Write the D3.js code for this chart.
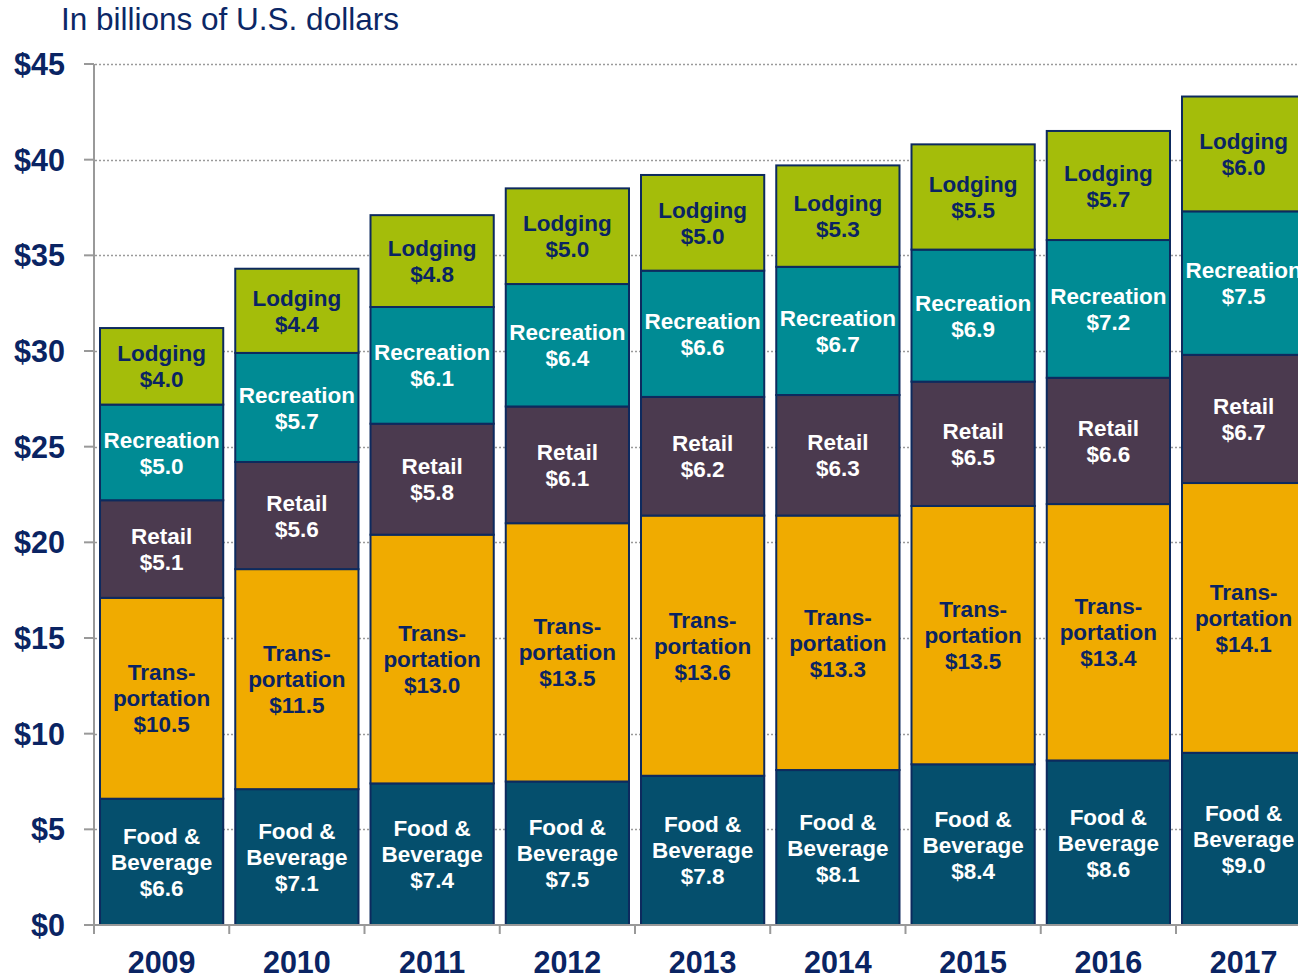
<!DOCTYPE html>
<html>
<head>
<meta charset="utf-8">
<script src="https://cdn.jsdelivr.net/npm/d3@7"></script>
<style>
  body { margin: 0; background: #fff; }
  svg { display: block; font-family: "Liberation Sans", Arial, sans-serif; }
</style>
</head>
<body>
<div id="chart"></div>
<script>
// data
var years = ["2009", "2010", "2011", "2012", "2013", "2014", "2015", "2016", "2017"];
var categories = ["Food & Beverage", "Transportation", "Retail", "Recreation", "Lodging"];
var foodBeverage   = [6.6, 7.1, 7.4, 7.5, 7.8, 8.1, 8.4, 8.6, 9.0];
var transportation = [10.5, 11.5, 13.0, 13.5, 13.6, 13.3, 13.5, 13.4, 14.1];
var retail         = [5.1, 5.6, 5.8, 6.1, 6.2, 6.3, 6.5, 6.6, 6.7];
var recreation     = [5.0, 5.7, 6.1, 6.4, 6.6, 6.7, 6.9, 7.2, 7.5];
var lodging        = [4.0, 4.4, 4.8, 5.0, 5.0, 5.3, 5.5, 5.7, 6.0];
var yTicks = [0, 5, 10, 15, 20, 25, 30, 35, 40, 45];

var series = [foodBeverage, transportation, retail, recreation, lodging];
// label lines shown inside each segment
var labelLines = [["Food &", "Beverage"], ["Trans-", "portation"], ["Retail"], ["Recreation"], ["Lodging"]];
var fills = ["#054f6d", "#f0ab00", "#4b3a4f", "#008b94", "#a4bd0a"];
var textColors = ["#fff", "#0a2463", "#fff", "#fff", "#0a2463"];

var W = 1298, H = 980;
var svg = d3.select("#chart").append("svg")
    .attr("width", W)
    .attr("height", H);

var x = d3.scaleBand()
    .domain(years)
    .range([94, 94 + 135.25 * years.length])
    .paddingInner(0.0888)
    .paddingOuter(0.0444);

var y = d3.scaleLinear()
    .domain([0, 45])
    .range([925, 64]);

// title
svg.append("text")
    .attr("x", 61)
    .attr("y", 30)
    .attr("fill", "#0b2766")
    .style("font-size", "31.5px")
    .text("In billions of U.S. dollars");

// dotted gridlines
svg.append("g")
  .selectAll("line")
  .data(yTicks.filter(function(d) { return d > 0; }))
  .join("line")
    .attr("x1", 95)
    .attr("x2", W)
    .attr("y1", function(d) { return Math.round(y(d)) + 0.5; })
    .attr("y2", function(d) { return Math.round(y(d)) + 0.5; })
    .attr("stroke", "#9a9a9a")
    .attr("stroke-width", 1.3)
    .attr("stroke-dasharray", "2,2");

// stack data
var stacked = years.map(function(yr, i) {
    var base = 0;
    return series.map(function(s, k) {
        var seg = { year: yr, k: k, v: s[i], y0: base, y1: base + s[i] };
        base += s[i];
        return seg;
    });
});
var segs = [].concat.apply([], stacked);

svg.append("g")
  .selectAll("rect")
  .data(segs)
  .join("rect")
    .attr("x", function(d) { return x(d.year); })
    .attr("y", function(d) { return y(d.y1); })
    .attr("width", x.bandwidth())
    .attr("height", function(d) { return y(d.y0) - y(d.y1); })
    .attr("fill", function(d) { return fills[d.k]; })
    .attr("stroke", "#0d2a5e")
    .attr("stroke-width", 2);

// labels inside segments
var lineH = 26;
var labels = svg.append("g")
  .selectAll("text")
  .data(segs)
  .join("text")
    .attr("text-anchor", "middle")
    .attr("fill", function(d) { return textColors[d.k]; })
    .style("font-size", "22.5px")
    .style("font-weight", "bold");

labels.each(function(d) {
    var lines = labelLines[d.k].concat(["$" + d.v.toFixed(1)]);
    var cy = (y(d.y0) + y(d.y1)) / 2;
    var top = cy - (lines.length - 1) * lineH / 2;
    var cx = x(d.year) + x.bandwidth() / 2;
    d3.select(this).selectAll("tspan")
      .data(lines)
      .join("tspan")
        .attr("x", cx)
        .attr("y", function(t, j) { return top + j * lineH; })
        .attr("dy", "0.36em")
        .text(function(t) { return t; });
});

// left axis
var axisColor = "#999";
svg.append("line")
    .attr("x1", 94).attr("x2", 94)
    .attr("y1", 64).attr("y2", 934)
    .attr("stroke", axisColor).attr("stroke-width", 2);

svg.append("g")
  .selectAll("line")
  .data(yTicks)
  .join("line")
    .attr("x1", 84).attr("x2", 94)
    .attr("y1", function(d) { return y(d); })
    .attr("y2", function(d) { return y(d); })
    .attr("stroke", axisColor).attr("stroke-width", 2);

svg.append("g")
  .selectAll("text")
  .data(yTicks)
  .join("text")
    .attr("x", 65)
    .attr("y", function(d) { return y(d); })
    .attr("dy", "0.36em")
    .attr("text-anchor", "end")
    .attr("fill", "#0a2463")
    .style("font-size", "30.5px")
    .style("font-weight", "bold")
    .text(function(d) { return "$" + d; });

// bottom axis
svg.append("line")
    .attr("x1", 84).attr("x2", W)
    .attr("y1", 925).attr("y2", 925)
    .attr("stroke", axisColor).attr("stroke-width", 2);

svg.append("g")
  .selectAll("line")
  .data(years.concat(["end"]))
  .join("line")
    .attr("x1", function(d, i) { return 94 + x.step() * i; })
    .attr("x2", function(d, i) { return 94 + x.step() * i; })
    .attr("y1", 925).attr("y2", 934)
    .attr("stroke", axisColor).attr("stroke-width", 2);

svg.append("g")
  .selectAll("text")
  .data(years)
  .join("text")
    .attr("x", function(d) { return x(d) + x.bandwidth() / 2; })
    .attr("y", 973)
    .attr("text-anchor", "middle")
    .attr("fill", "#0a2463")
    .style("font-size", "30.5px")
    .style("font-weight", "bold")
    .text(function(d) { return d; });
</script>
</body>
</html>
